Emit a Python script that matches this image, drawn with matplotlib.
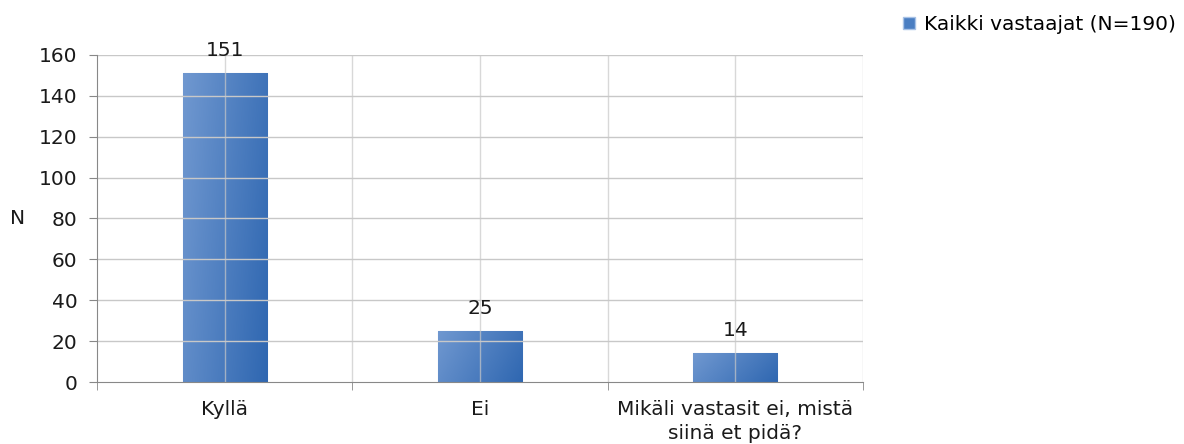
import matplotlib
matplotlib.use("Agg")
import matplotlib.pyplot as plt
from matplotlib.patches import Patch
import numpy as np

# data
categories = ["Kyllä", "Ei", "Mikäli vastasit ei, mistä\nsiinä et pidä?"]
values = [151, 25, 14]
series_name = "Kaikki vastaajat (N=190)"

plt.rcParams["font.family"] = ["DejaVu Sans"]
FS = 14.5

fig = plt.figure(figsize=(11.84, 4.44), dpi=100)
ax = fig.add_axes([97 / 1184, 1 - 382 / 444, (863 - 97) / 1184, (382 - 55) / 444])

x = np.arange(len(categories))
bars = ax.bar(x, values, width=0.33, color="#4A7EC2", edgecolor="#A8C2E6", linewidth=0.8, zorder=2)

# gradient fill on each bar
grad = np.linspace(0, 1, 64)
gx, gy = np.meshgrid(grad, grad)
g = (gx * 0.75 + gy * 0.25)
cmap = matplotlib.colors.LinearSegmentedColormap.from_list("b", ["#7098D0", "#2F67B1"])
for b in bars:
    x0, w, h = b.get_x(), b.get_width(), b.get_height()
    im = ax.imshow(g, cmap=cmap, extent=[x0, x0 + w, 0, h], aspect="auto", zorder=2.1, origin="upper")
    im.set_clip_path(b)

for xi, v in zip(x, values):
    ax.text(xi, v + 6.5, str(v), ha="center", va="bottom", fontsize=FS, color="#1a1a1a", zorder=5)

ax.set_xlim(-0.5, 2.5)
ax.set_ylim(0, 160)
ax.set_yticks(np.arange(0, 161, 20))
ax.set_xticks(x)
ax.set_xticklabels(categories, fontsize=FS, color="#1a1a1a", linespacing=1.3)
ax.set_xticks(np.arange(-0.5, 2.6, 1.0), minor=True)
ax.tick_params(axis="x", which="major", length=0, pad=13)
ax.tick_params(axis="x", which="minor", length=6, color="#888888")
ax.tick_params(axis="y", length=6, color="#888888", labelsize=FS, labelcolor="#1a1a1a", pad=8)

for yv in np.arange(20, 161, 20):
    ax.axhline(yv, color="#c8c8c8", linewidth=1, zorder=3)
for xv in np.arange(-0.5, 2.6, 0.5)[1:]:
    ax.axvline(xv, color="#c8c8c8", linewidth=1, zorder=3, alpha=0.7)

for s in ["top", "right"]:
    ax.spines[s].set_visible(False)
for s in ["left", "bottom"]:
    ax.spines[s].set_color("#888888")
    ax.spines[s].set_zorder(4)

fig.text(18 / 1184, 1 - 218 / 444, "N", fontsize=FS, ha="center", va="center", color="#1a1a1a")

fig.legend(handles=[Patch(facecolor="#4A7EC2", edgecolor="#A8C2E6")], labels=[series_name],
           loc="upper right", bbox_to_anchor=(1188 / 1184, 441 / 444), frameon=False, fontsize=FS,
           handlelength=0.6, handleheight=0.6, handletextpad=0.45, borderaxespad=0.3,
           borderpad=0.3)

fig.savefig("out.png", dpi=100)
